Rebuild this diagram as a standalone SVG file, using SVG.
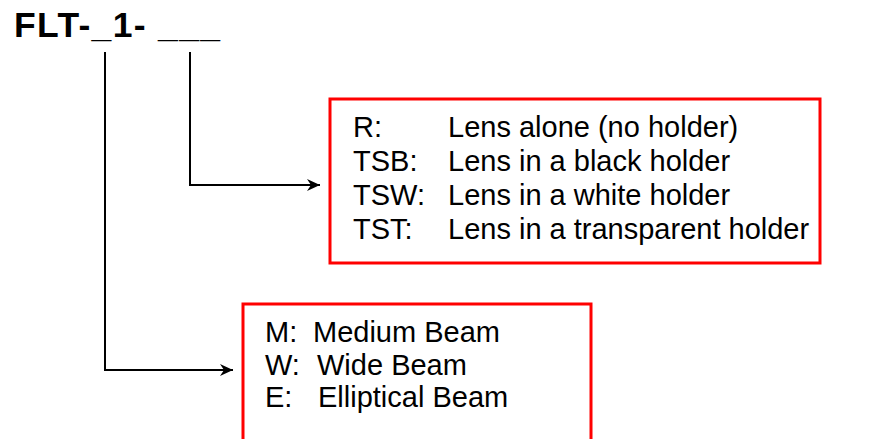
<svg xmlns="http://www.w3.org/2000/svg" width="879" height="439" viewBox="0 0 879 439">
<defs>
<style>
.t{font-family:"Liberation Sans",Arial,sans-serif;fill:#000}
.title{font-size:35.5px;font-weight:bold}
.lbl{font-size:29px}
.box{fill:#fff;stroke:#ff0000;stroke-width:3}
.con{fill:none;stroke:#000;stroke-width:2}
</style>
<marker id="ah" markerWidth="14" markerHeight="12" refX="13" refY="6" orient="auto" markerUnits="userSpaceOnUse">
<path d="M0,0 L13,6 L0,12 L4,6 Z" fill="#000"/>
</marker>
</defs>
<rect width="879" height="439" fill="#fff"/>
<g id="title">
<text class="t title" x="14" y="37" textLength="206" lengthAdjust="spacing">FLT-_1- ___</text>
</g>
<g id="box-holder">
<rect class="box" x="330" y="99" width="490" height="164"/>
<text class="t lbl" x="353" y="137">R:</text>
<text class="t lbl" x="448" y="137">Lens alone (no holder)</text>
<text class="t lbl" x="353" y="171">TSB:</text>
<text class="t lbl" x="448" y="171">Lens in a black holder</text>
<text class="t lbl" x="353" y="205">TSW:</text>
<text class="t lbl" x="448" y="205">Lens in a white holder</text>
<text class="t lbl" x="353" y="239">TST:</text>
<text class="t lbl" x="448" y="239">Lens in a transparent holder</text>
</g>
<g id="box-beam">
<rect class="box" x="243" y="304" width="348" height="150"/>
<text class="t lbl" x="265" y="342">M:</text>
<text class="t lbl" x="313" y="342">Medium Beam</text>
<text class="t lbl" x="265" y="375">W:</text>
<text class="t lbl" x="317" y="375">Wide Beam</text>
<text class="t lbl" x="265" y="407">E:</text>
<text class="t lbl" x="318" y="407">Elliptical Beam</text>
</g>
<g id="connectors">
<path class="con" d="M190,52 V185 H320" marker-end="url(#ah)"/>
<path class="con" d="M105,52 V370 H233" marker-end="url(#ah)"/>
</g>
</svg>
